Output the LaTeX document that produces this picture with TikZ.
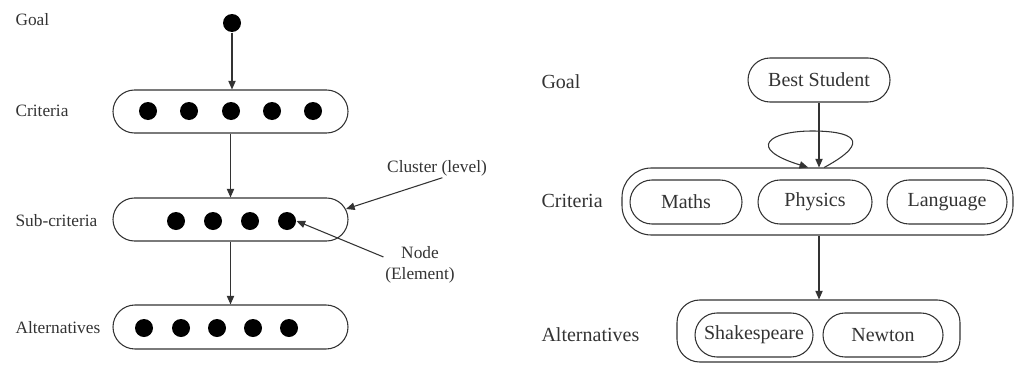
\documentclass[tikz,border=0pt]{standalone}
\usepackage{fontspec}
\setmainfont{Liberation Serif}
\newfontfamily\tms{Liberation Serif}
\usetikzlibrary{shapes.misc,arrows.meta,calc}
\definecolor{ink}{HTML}{333333}
\begin{document}
\begin{tikzpicture}[x=0.75pt,y=-0.75pt,
  line width=0.8pt, draw=ink, text=ink,
  arr/.style={draw=ink, -{Triangle[length=6.5pt,width=5.5pt]}},
  pill/.style 2 args={draw=ink, rounded rectangle, minimum width=#1*0.75pt, minimum height=#2*0.75pt, inner sep=0pt},
  group/.style n args={3}{draw=ink, rectangle, rounded corners=#3, minimum width=#1*0.75pt, minimum height=#2*0.75pt, inner sep=0pt},
  dot/.style={circle, fill=black, draw=none, minimum size=13.5pt, inner sep=0pt},
  lab/.style={anchor=west, font=\tms\fontsize{13}{15}\selectfont, inner sep=0pt},
  rlab/.style={anchor=west, font=\tms\fontsize{15}{17}\selectfont, inner sep=0pt},
  note/.style={font=\tms\fontsize{13}{15.5}\selectfont, align=center, inner sep=1pt},
  item/.style={font=\tms\fontsize{15}{17}\selectfont}]
\useasboundingbox (0,0) rectangle (1019,364);

% ---------- generic hierarchy ----------
\node[lab] (lgoal) at (15,20) {Goal};
\node[lab] (lcrit) at (15,111) {Criteria};
\node[lab] (lsub)  at (15,221) {Sub-criteria};
\node[lab] (lalt)  at (15,328) {Alternatives};

\node[dot] (g) at (232,23) {};

\node[pill={235}{43}] (cbox) at (230.5,111.5) {};
\foreach \x [count=\i] in {148,189,231,272,313}
  \node[dot] (c\i) at (\x,111) {};

\node[pill={235}{43}] (sbox) at (230.5,219.5) {};
\foreach \x [count=\i] in {176,213,250,287}
  \node[dot] (s\i) at (\x,221) {};

\node[pill={235}{44}] (abox) at (230.5,327) {};
\foreach \x [count=\i] in {144,181,217,253,289}
  \node[dot] (a\i) at (\x,328) {};

\draw[arr] (g) -- (g |- cbox.north);
\draw[arr] (cbox.south) -- (sbox.north);
\draw[arr] (sbox.south) -- (abox.north);

\node[note] (cl) at (437,168) {Cluster (level)};
\coordinate (clend) at (346,209);
\draw[arr] ([xshift=4pt]cl.south) -- (clend);

\node[note] (ne) at (420,265) {Node\\(Element)};
\draw[arr] ($(ne.north west)!0.3!(ne.south west)$) -- (s4.east);

% ---------- example hierarchy ----------
\node[rlab] (rgoal) at (541,82) {Goal};
\node[rlab] (rcrit) at (541,201) {Criteria};
\node[rlab] (ralt)  at (541,335) {Alternatives};

\node[pill={142}{44}, item] (bs) at (819,80) {Best Student};

\node[group={391}{67}{22pt}] (crit) at (817.5,201.5) {};
\node[pill={112}{44}, item] (maths) at (686,202) {Maths};
\node[pill={114}{44}, item] (phys) at (815,202) {Physics};
\node[pill={120}{44}, item] (lang) at (947,202) {Language};

\node[group={283}{62}{17pt}] (alts) at (818.5,331) {};
\node[pill={118}{44}, item] (shak) at (754,335) {Shakespeare};
\node[pill={120}{44}, item] (newt) at (883,335) {Newton};

\draw[arr] (bs.south) -- (bs.south |- crit.north);
\draw[arr] ([xshift=5pt]crit.north) .. controls (875,140) and (850,131) .. (812,131)
  .. controls (770,131) and (745,148) .. ([xshift=-7pt]crit.north);
\draw[arr] (bs.south |- crit.south) -- (bs.south |- alts.north);
\end{tikzpicture}
\end{document}
